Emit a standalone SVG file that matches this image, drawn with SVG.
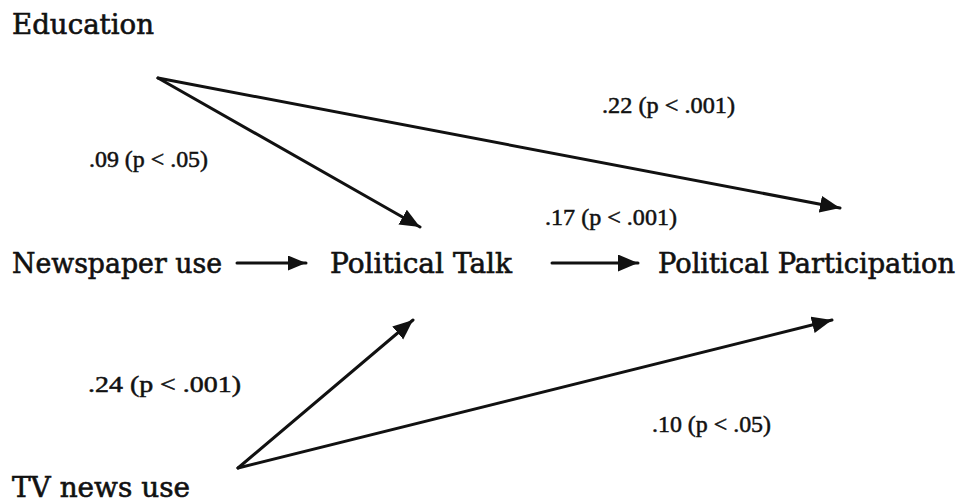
<svg xmlns="http://www.w3.org/2000/svg" width="966" height="504" viewBox="0 0 966 504">
<style>
.node{font-family:"DejaVu Serif","Liberation Serif",serif;font-size:27px;fill:#111;stroke:#111;stroke-width:0.6}
.lbl{font-family:"Liberation Serif","Times New Roman",serif;font-size:23px;fill:#111;stroke:#111;stroke-width:0.5}
.ln{stroke:#111;stroke-width:3;fill:none;stroke-linecap:round}
</style>
<defs>
<marker id="ah" markerUnits="userSpaceOnUse" markerWidth="22" markerHeight="18" refX="20" refY="8.5" orient="auto">
<path d="M0,0 L20,8.5 L0,17 z" fill="#111"/>
</marker>
<marker id="ahs" markerUnits="userSpaceOnUse" markerWidth="20" markerHeight="16" refX="18" refY="7.5" orient="auto">
<path d="M0,0 L18,7.5 L0,15 z" fill="#111"/>
</marker>
</defs>
<rect width="966" height="504" fill="#fff"/>
<g id="education"><text class="node" x="12" y="34" textLength="142" lengthAdjust="spacingAndGlyphs">Education</text></g>
<g id="newspaper"><text class="node" x="12" y="273" textLength="210" lengthAdjust="spacingAndGlyphs">Newspaper use</text></g>
<g id="talk"><text class="node" x="330" y="273" textLength="182" lengthAdjust="spacingAndGlyphs">Political Talk</text></g>
<g id="participation"><text class="node" x="658" y="273" textLength="297" lengthAdjust="spacingAndGlyphs">Political Participation</text></g>
<g id="tv"><text class="node" x="12" y="497" textLength="178" lengthAdjust="spacingAndGlyphs">TV news use</text></g>
<g id="connectors">
<line class="ln" x1="237" y1="263" x2="306" y2="263" stroke-width="1.6" stroke="#333" marker-end="url(#ahs)"/>
<line class="ln" x1="552" y1="263" x2="638" y2="263" stroke-width="2.5" marker-end="url(#ah)"/>
<line class="ln" x1="158" y1="78" x2="420" y2="227" marker-end="url(#ah)"/>
<line class="ln" x1="158" y1="78" x2="840" y2="208" marker-end="url(#ah)"/>
<line class="ln" x1="238" y1="468" x2="413" y2="320" marker-end="url(#ah)"/>
<line class="ln" x1="238" y1="468" x2="832" y2="320" marker-end="url(#ah)"/>
</g>
<g id="labels">
<text class="lbl" x="602" y="113" textLength="133" lengthAdjust="spacingAndGlyphs">.22 (p &lt; .001)</text>
<text class="lbl" x="89" y="167" textLength="119" lengthAdjust="spacingAndGlyphs">.09 (p &lt; .05)</text>
<text class="lbl" x="545" y="225" textLength="132" lengthAdjust="spacingAndGlyphs">.17 (p &lt; .001)</text>
<text class="lbl" x="88" y="392" textLength="153" lengthAdjust="spacingAndGlyphs">.24 (p &lt; .001)</text>
<text class="lbl" x="652" y="432" textLength="119" lengthAdjust="spacingAndGlyphs">.10 (p &lt; .05)</text>
</g>
</svg>
